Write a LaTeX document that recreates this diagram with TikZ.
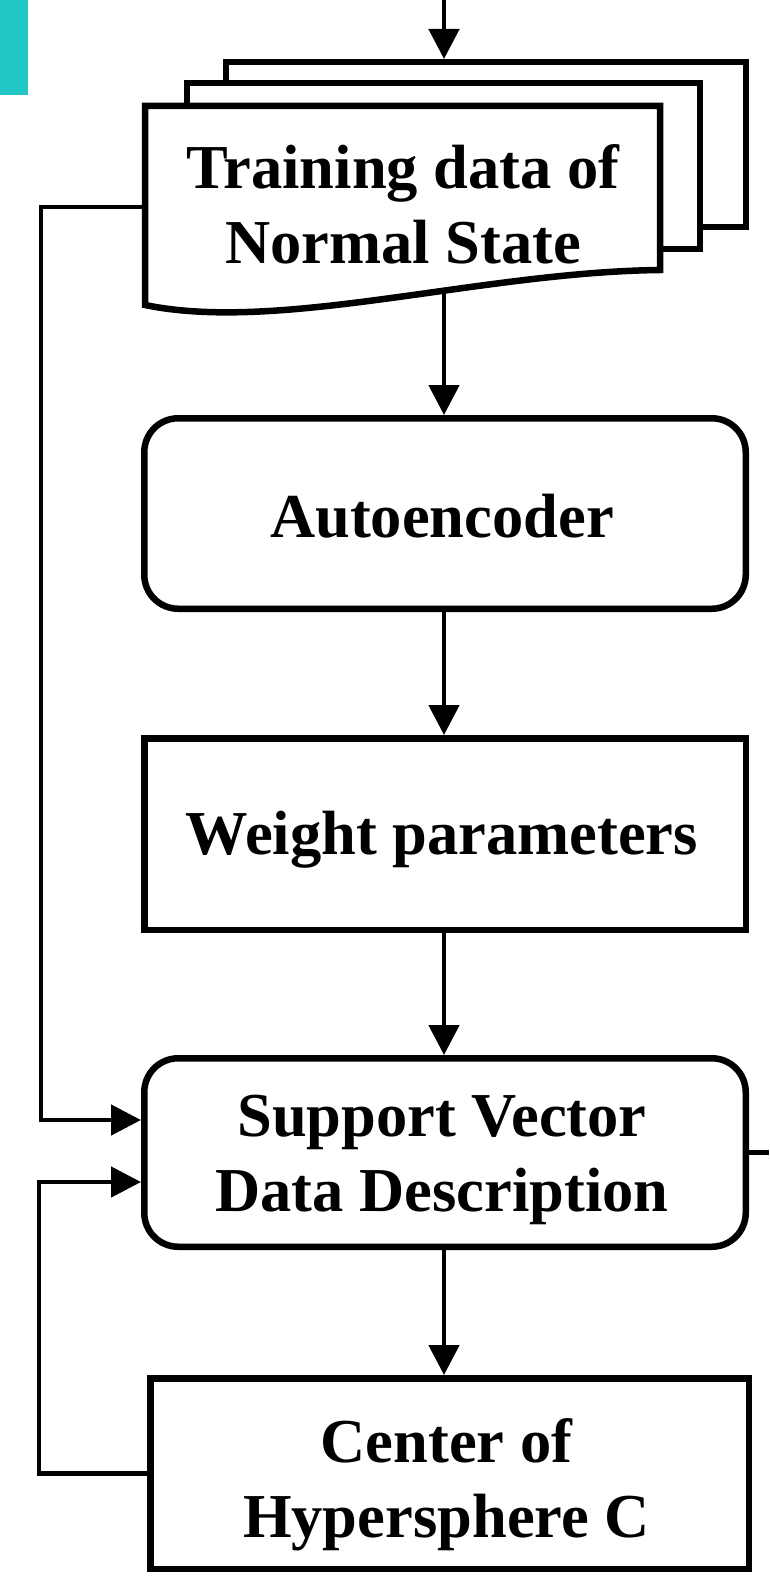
\documentclass[tikz,border=0pt]{standalone}
\usepackage{fontspec}
\setmainfont{Liberation Serif}
\usetikzlibrary{arrows.meta}
\definecolor{tabteal}{RGB}{32,199,196}
\begin{document}
\begin{tikzpicture}[x=1pt,y=-1pt,
  frame/.style={draw=black, line width=6.5pt, fill=white},
  box/.style={frame, inner sep=0pt},
  roundbox/.style={box, rounded corners=34pt},
  link/.style={draw=black, line width=4.8pt, -{Triangle[length=30pt,width=30pt]}},
  plain/.style={draw=black, line width=4.8pt},
  label/.style={font=\fontsize{62.5}{75}\selectfont\bfseries, align=center, inner sep=0pt}]
\useasboundingbox (0,0) rectangle (769,1576);

% corner tab
\fill[tabteal] (0,0) rectangle (28,95);

% stacked document sheets
\draw[frame] (226,62) rectangle (746,227);
\draw[frame] (187,83) rectangle (700,249);
\draw[frame] (145,305) -- (145,106) -- (660,106) -- (660,270)
  .. controls (480,272) and (280,333) .. (145,305) -- cycle;
\node[label] (train) at (403,204) {Training data of\\Normal State};
\coordinate (src) at (444,0);
\coordinate (stacktop) at (444,59);
\coordinate (stackbot) at (444,292);
\coordinate (stackleft) at (142,207);

% process boxes
\node[roundbox, minimum width=601.5pt, minimum height=190.5pt] (ae) at (445,513.5) {};
\node[box, minimum width=601.5pt, minimum height=191.5pt] (wp) at (445,834) {};
\node[roundbox, minimum width=601.5pt, minimum height=188.5pt] (svdd) at (445,1152.5) {};
\node[box, minimum width=598.5pt, minimum height=190.5pt] (hc) at (449.5,1473.5) {};
\coordinate (rightout) at (769,1152.5);

% box texts
\node[label] (aetext) at ([xshift=-3pt,yshift=-3pt]ae.center) {Autoencoder};
\node[label] (wptext) at ([xshift=-3pt,yshift=-6pt]wp.center) {Weight parameters};
\node[label] (svddtext) at ([xshift=-3pt,yshift=-7pt]svdd.center) {Support Vector\\Data Description};
\node[label] (hctext) at ([xshift=-3pt,yshift=-11pt]hc.center) {Center of\\Hypersphere C};

% connectors
\draw[link] (src) -- (stacktop);
\draw[link] (stackbot) -- (ae.north -| stackbot);
\draw[link] (ae.south -| stackbot) -- (wp.north -| stackbot);
\draw[link] (wp.south -| stackbot) -- (svdd.north -| stackbot);
\draw[link] (svdd.south -| stackbot) -- (hc.north -| stackbot);
\draw[plain] (svdd.east) -- (rightout);
\draw[link] (stackleft) -- ++(-101,0) |- ([yshift=32.5pt]svdd.west);
\draw[link] (hc.west) -- ++(-108,0) |- ([yshift=-29.5pt]svdd.west);
\end{tikzpicture}
\end{document}
